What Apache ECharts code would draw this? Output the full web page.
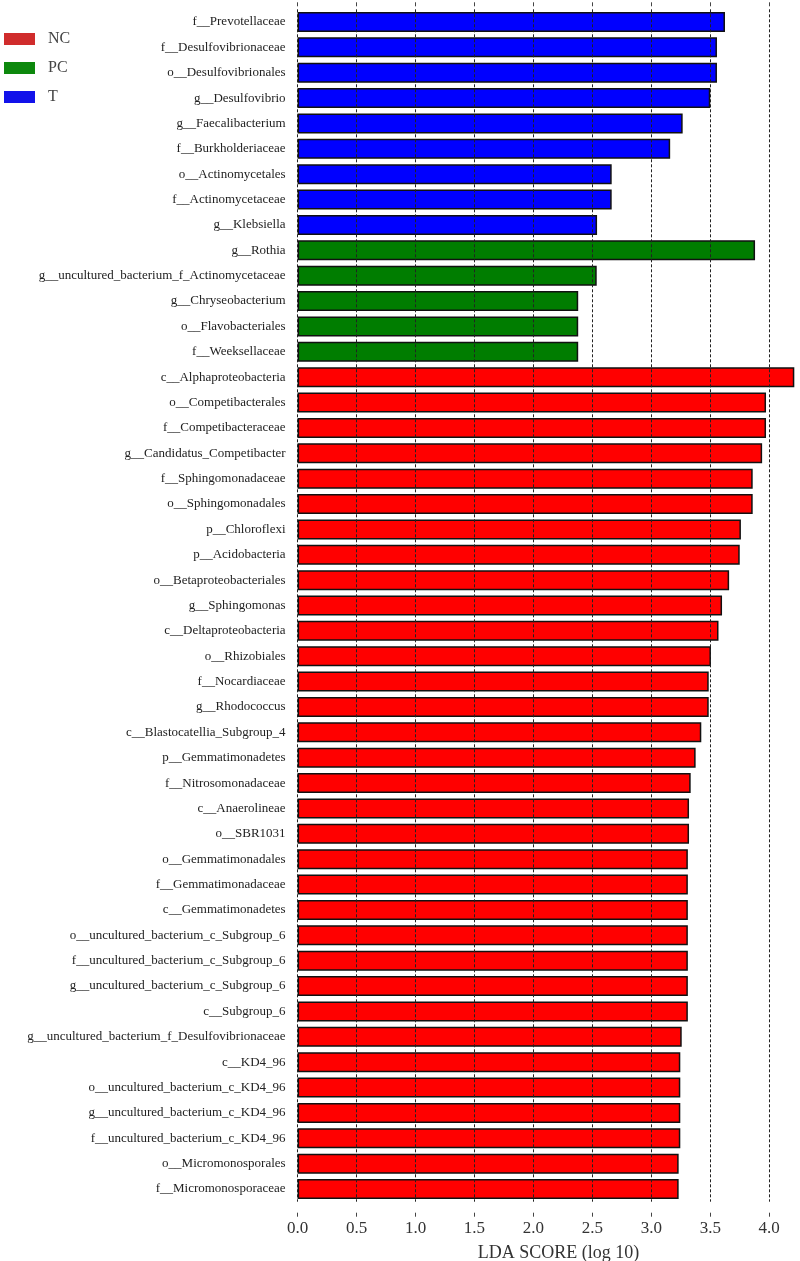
<!DOCTYPE html>
<html lang="en">
<head>
<meta charset="UTF-8">
<title>LDA score</title>
<script src="https://cdn.jsdelivr.net/npm/echarts@6/dist/echarts.min.js"></script>
<style>
  html, body { margin: 0; padding: 0; background: #fff; }
</style>
</head>
<body>
<div id="main" style="width: 800px;height: 1261px;"></div>
<script>
// taxa from top to bottom
var categories = [
  'f__Prevotellaceae', 'f__Desulfovibrionaceae', 'o__Desulfovibrionales', 'g__Desulfovibrio',
  'g__Faecalibacterium', 'f__Burkholderiaceae', 'o__Actinomycetales', 'f__Actinomycetaceae',
  'g__Klebsiella', 'g__Rothia', 'g__uncultured_bacterium_f_Actinomycetaceae', 'g__Chryseobacterium',
  'o__Flavobacteriales', 'f__Weeksellaceae', 'c__Alphaproteobacteria', 'o__Competibacterales',
  'f__Competibacteraceae', 'g__Candidatus_Competibacter', 'f__Sphingomonadaceae', 'o__Sphingomonadales',
  'p__Chloroflexi', 'p__Acidobacteria', 'o__Betaproteobacteriales', 'g__Sphingomonas',
  'c__Deltaproteobacteria', 'o__Rhizobiales', 'f__Nocardiaceae', 'g__Rhodococcus',
  'c__Blastocatellia_Subgroup_4', 'p__Gemmatimonadetes', 'f__Nitrosomonadaceae', 'c__Anaerolineae',
  'o__SBR1031', 'o__Gemmatimonadales', 'f__Gemmatimonadaceae', 'c__Gemmatimonadetes',
  'o__uncultured_bacterium_c_Subgroup_6', 'f__uncultured_bacterium_c_Subgroup_6',
  'g__uncultured_bacterium_c_Subgroup_6', 'c__Subgroup_6',
  'g__uncultured_bacterium_f_Desulfovibrionaceae', 'c__KD4_96', 'o__uncultured_bacterium_c_KD4_96',
  'g__uncultured_bacterium_c_KD4_96', 'f__uncultured_bacterium_c_KD4_96',
  'o__Micromonosporales', 'f__Micromonosporaceae'
];
var ldaScores = [
  3.625, 3.557, 3.557, 3.50,
  3.266, 3.16, 2.664, 2.664,
  2.54, 3.88, 2.537, 2.38,
  2.38, 2.38, 4.213, 3.973,
  3.973, 3.94, 3.86, 3.86,
  3.76, 3.75, 3.66, 3.60,
  3.57, 3.506, 3.487, 3.487,
  3.424, 3.376, 3.334, 3.32,
  3.32, 3.31, 3.31, 3.31,
  3.31, 3.31,
  3.31, 3.31,
  3.258, 3.246, 3.246,
  3.246, 3.246,
  3.232, 3.232
];
var groupOf = [
  'T', 'T', 'T', 'T', 'T', 'T', 'T', 'T', 'T',
  'PC', 'PC', 'PC', 'PC', 'PC',
  'NC', 'NC', 'NC', 'NC', 'NC', 'NC', 'NC', 'NC', 'NC', 'NC', 'NC', 'NC', 'NC', 'NC',
  'NC', 'NC', 'NC', 'NC', 'NC', 'NC', 'NC', 'NC', 'NC', 'NC', 'NC', 'NC', 'NC', 'NC',
  'NC', 'NC', 'NC', 'NC', 'NC'
];
var groups = ['NC', 'PC', 'T'];
var xTicks = [0, 0.5, 1.0, 1.5, 2.0, 2.5, 3.0, 3.5, 4.0];

var barColors = { NC: '#ff0000', PC: '#007d00', T: '#0000ff' };
var legendColors = { NC: '#d02c2c', PC: '#0d880d', T: '#1212ea' };

var myChart = echarts.init(document.getElementById('main'));

var series = groups.map(function (g) {
  return {
    name: g,
    type: 'bar',
    stack: 'lda',
    barWidth: 20,
    clip: false,
    itemStyle: {
      color: barColors[g],
      borderColor: '#111',
      borderWidth: 1.5
    },
    data: ldaScores.map(function (v, i) {
      return groupOf[i] === g ? v : '-';
    })
  };
});

var option = {
  animation: false,
  backgroundColor: '#fff',
  textStyle: { fontFamily: '"Liberation Serif", "DejaVu Serif", serif' },
  legend: {
    orient: 'vertical',
    left: 4,
    top: 31,
    padding: 0,
    itemWidth: 31,
    itemHeight: 12,
    itemGap: 13,
    icon: 'rect',
    textStyle: {
      fontSize: 16,
      lineHeight: 12,
      color: '#444',
      padding: [0, 0, 0, 8],
      fontFamily: '"Liberation Serif", serif'
    },
    data: groups.map(function (g) {
      return { name: g, itemStyle: { color: legendColors[g], borderWidth: 0 } };
    })
  },
  grid: {
    left: 297.6,
    right: 30.8,
    top: 9.3,
    height: 1192.4,
    outerBoundsMode: 'none'
  },
  xAxis: [{
    type: 'value',
    position: 'bottom',
    min: 0,
    max: 4,
    interval: 0.5,
    offset: 11,
    z: 10,
    name: 'LDA SCORE (log 10)',
    nameLocation: 'middle',
    nameGap: 32,
    nameTextStyle: {
      fontSize: 18,
      color: '#333',
      padding: [0, 0, 0, 50],
      fontFamily: '"Liberation Serif", serif'
    },
    axisLine: { show: false },
    axisTick: { show: true, length: 4, lineStyle: { color: '#444' } },
    axisLabel: {
      fontSize: 17,
      color: '#333',
      margin: 7,
      fontFamily: '"Liberation Serif", serif',
      formatter: function (v) {
        return xTicks.indexOf(v) >= 0 ? v.toFixed(1) : '';
      }
    },
    splitLine: {
      show: true,
      lineStyle: { color: '#222', type: [3, 2], width: 1 }
    }
  }, {
    type: 'value',
    position: 'top',
    min: 0,
    max: 4,
    interval: 0.5,
    offset: 3,
    z: 10,
    axisLine: { show: false },
    axisTick: { show: true, length: 4, lineStyle: { color: '#444' } },
    axisLabel: { show: false },
    splitLine: { show: false }
  }],
  yAxis: {
    type: 'category',
    inverse: true,
    data: categories,
    axisLine: { show: false },
    axisTick: { show: false },
    axisLabel: {
      interval: 0,
      fontSize: 13,
      color: '#222',
      margin: 12,
      fontFamily: '"Liberation Serif", serif'
    }
  },
  series: series
};
myChart.setOption(option);
</script>
</body>
</html>
